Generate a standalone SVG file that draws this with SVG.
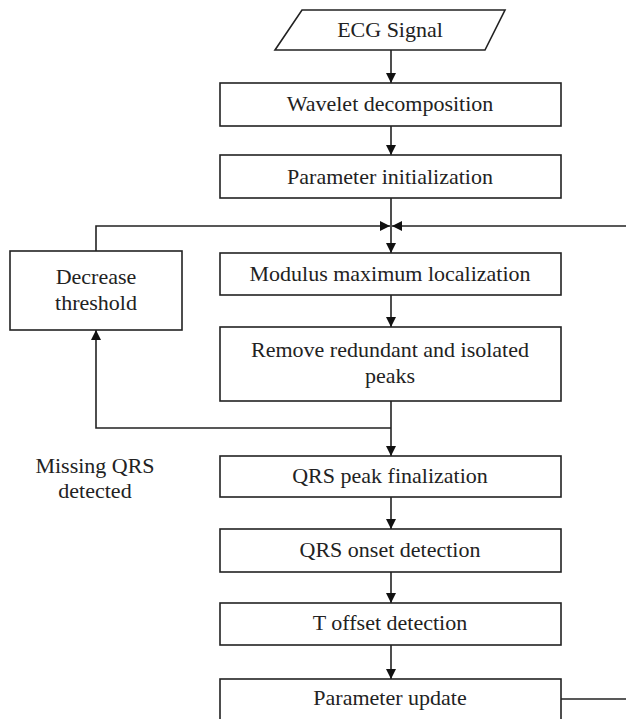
<svg xmlns="http://www.w3.org/2000/svg" width="626" height="719" viewBox="0 0 626 719">
<style>
.box{fill:#fff;stroke:#222;stroke-width:1.6}
.ln{fill:none;stroke:#222;stroke-width:1.6}
text{font-family:'Liberation Serif','DejaVu Serif',Times,serif;font-size:22px;fill:#222;text-anchor:middle}
</style>
<defs>
<marker id="ah" viewBox="0 0 10 10" refX="10" refY="5" markerWidth="11" markerHeight="10" markerUnits="userSpaceOnUse" orient="auto">
<path d="M0,0 L10,5 L0,10 z" fill="#111"/>
</marker>
</defs>
<rect width="626" height="719" fill="#fff"/>
<g id="connectors">
<line class="ln" x1="391" y1="50" x2="391" y2="83" marker-end="url(#ah)"/>
<line class="ln" x1="391" y1="126" x2="391" y2="155" marker-end="url(#ah)"/>
<line class="ln" x1="391" y1="198" x2="391" y2="253" marker-end="url(#ah)"/>
<polyline class="ln" points="96,251 96,226 390,226" marker-end="url(#ah)"/>
<line class="ln" x1="630" y1="226" x2="392" y2="226" marker-end="url(#ah)"/>
<line class="ln" x1="391" y1="295" x2="391" y2="327" marker-end="url(#ah)"/>
<line class="ln" x1="391" y1="401" x2="391" y2="456" marker-end="url(#ah)"/>
<polyline class="ln" points="391,428 96,428 96,330" marker-end="url(#ah)"/>
<line class="ln" x1="391" y1="497" x2="391" y2="529" marker-end="url(#ah)"/>
<line class="ln" x1="391" y1="572" x2="391" y2="603" marker-end="url(#ah)"/>
<line class="ln" x1="391" y1="645" x2="391" y2="679" marker-end="url(#ah)"/>
<line class="ln" x1="561" y1="699" x2="630" y2="699"/>
</g>
<g id="ecg-signal">
<polygon class="box" points="302,10 505,10 485,50 275,50"/>
<text x="390" y="37">ECG Signal</text>
</g>
<g id="wavelet">
<rect class="box" x="220" y="83" width="341" height="43"/>
<text x="390" y="111">Wavelet decomposition</text>
</g>
<g id="param-init">
<rect class="box" x="220" y="155" width="341" height="43"/>
<text x="390" y="184">Parameter initialization</text>
</g>
<g id="decrease">
<rect class="box" x="10" y="251" width="172" height="79"/>
<text x="96" y="284">Decrease</text>
<text x="96" y="310">threshold</text>
</g>
<g id="modulus">
<rect class="box" x="220" y="253" width="341" height="42"/>
<text x="390" y="281">Modulus maximum localization</text>
</g>
<g id="remove">
<rect class="box" x="220" y="327" width="341" height="74"/>
<text x="390" y="357">Remove redundant and isolated</text>
<text x="390" y="383">peaks</text>
</g>
<g id="missing-label">
<text x="95" y="473">Missing QRS</text>
<text x="95" y="498">detected</text>
</g>
<g id="qrs-peak">
<rect class="box" x="220" y="456" width="341" height="41"/>
<text x="390" y="483">QRS peak finalization</text>
</g>
<g id="qrs-onset">
<rect class="box" x="220" y="529" width="341" height="43"/>
<text x="390" y="557">QRS onset detection</text>
</g>
<g id="t-offset">
<rect class="box" x="220" y="603" width="341" height="42"/>
<text x="390" y="630">T offset detection</text>
</g>
<g id="param-update">
<rect class="box" x="220" y="679" width="341" height="60"/>
<text x="390" y="705">Parameter update</text>
</g>
</svg>
